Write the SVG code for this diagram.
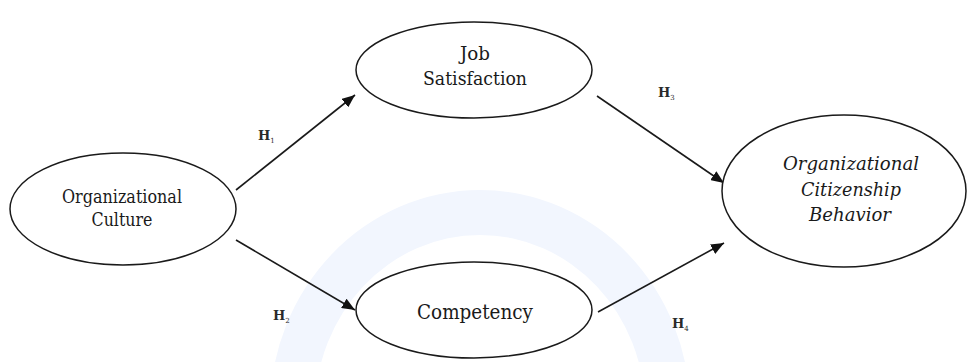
<svg xmlns="http://www.w3.org/2000/svg" width="967" height="362" viewBox="0 0 967 362">
  <style>
    .node ellipse { fill: #ffffff; stroke: #1a1a1a; stroke-width: 1.5; }
    .lbl { font-family: "DejaVu Serif", "Liberation Serif", serif; font-size: 18px; fill: #1a1a1a; text-anchor: middle; }
    .it { font-style: italic; }
    .conn line { stroke: #1a1a1a; stroke-width: 1.6; }
    .h { font-family: "DejaVu Serif", "Liberation Serif", serif; font-size: 13px; font-weight: bold; fill: #2a2a2a; }
    .sub { font-size: 7px; font-weight: normal; }
  </style>
  <defs>
    <marker id="arr" viewBox="0 0 12 10" refX="12" refY="5" markerWidth="13" markerHeight="11" markerUnits="userSpaceOnUse" orient="auto">
      <path d="M0,0 L12,5 L0,10 z" fill="#111"/>
    </marker>
  </defs>
  <rect width="967" height="362" fill="#ffffff"/>
  <g id="watermark">
    <path d="M270,410 A210,220 0 1,1 690,410 A210,220 0 1,1 270,410 Z M315,410 A165,175 0 1,0 645,410 A165,175 0 1,0 315,410 Z" fill="#f2f6fe" fill-rule="evenodd"/>
  </g>
  <g class="conn" id="connectors">
    <line x1="236" y1="190" x2="355" y2="95" marker-end="url(#arr)"/>
    <line x1="236" y1="240" x2="355" y2="310" marker-end="url(#arr)"/>
    <line x1="597" y1="96" x2="724" y2="183" marker-end="url(#arr)"/>
    <line x1="598" y1="312" x2="724" y2="243" marker-end="url(#arr)"/>
  </g>
  <g id="labels">
    <text class="h" x="258" y="140">H<tspan class="sub" dy="3">1</tspan></text>
    <text class="h" x="273" y="320">H<tspan class="sub" dy="3">2</tspan></text>
    <text class="h" x="658" y="97">H<tspan class="sub" dy="3">3</tspan></text>
    <text class="h" x="672" y="328">H<tspan class="sub" dy="3">4</tspan></text>
  </g>
  <g class="node" id="org-culture">
    <ellipse cx="123" cy="209" rx="113" ry="56"/>
    <text class="lbl" x="122" y="203" textLength="120" lengthAdjust="spacingAndGlyphs">Organizational</text>
    <text class="lbl" x="122" y="226" textLength="61" lengthAdjust="spacingAndGlyphs">Culture</text>
  </g>
  <g class="node" id="job-satisfaction">
    <ellipse cx="474" cy="70" rx="118" ry="48"/>
    <text class="lbl" x="475" y="60" textLength="30" lengthAdjust="spacingAndGlyphs">Job</text>
    <text class="lbl" x="475" y="85" textLength="104" lengthAdjust="spacingAndGlyphs">Satisfaction</text>
  </g>
  <g class="node" id="competency">
    <ellipse cx="474" cy="310" rx="118" ry="48"/>
    <text class="lbl" x="475" y="319" style="font-size:21px" textLength="116" lengthAdjust="spacingAndGlyphs">Competency</text>
  </g>
  <g class="node" id="ocb">
    <ellipse cx="844" cy="191" rx="122" ry="76"/>
    <text class="lbl it" x="851" y="170" textLength="136" lengthAdjust="spacingAndGlyphs">Organizational</text>
    <text class="lbl it" x="851" y="196" textLength="100" lengthAdjust="spacingAndGlyphs">Citizenship</text>
    <text class="lbl it" x="850" y="221" textLength="82" lengthAdjust="spacingAndGlyphs">Behavior</text>
  </g>
</svg>
